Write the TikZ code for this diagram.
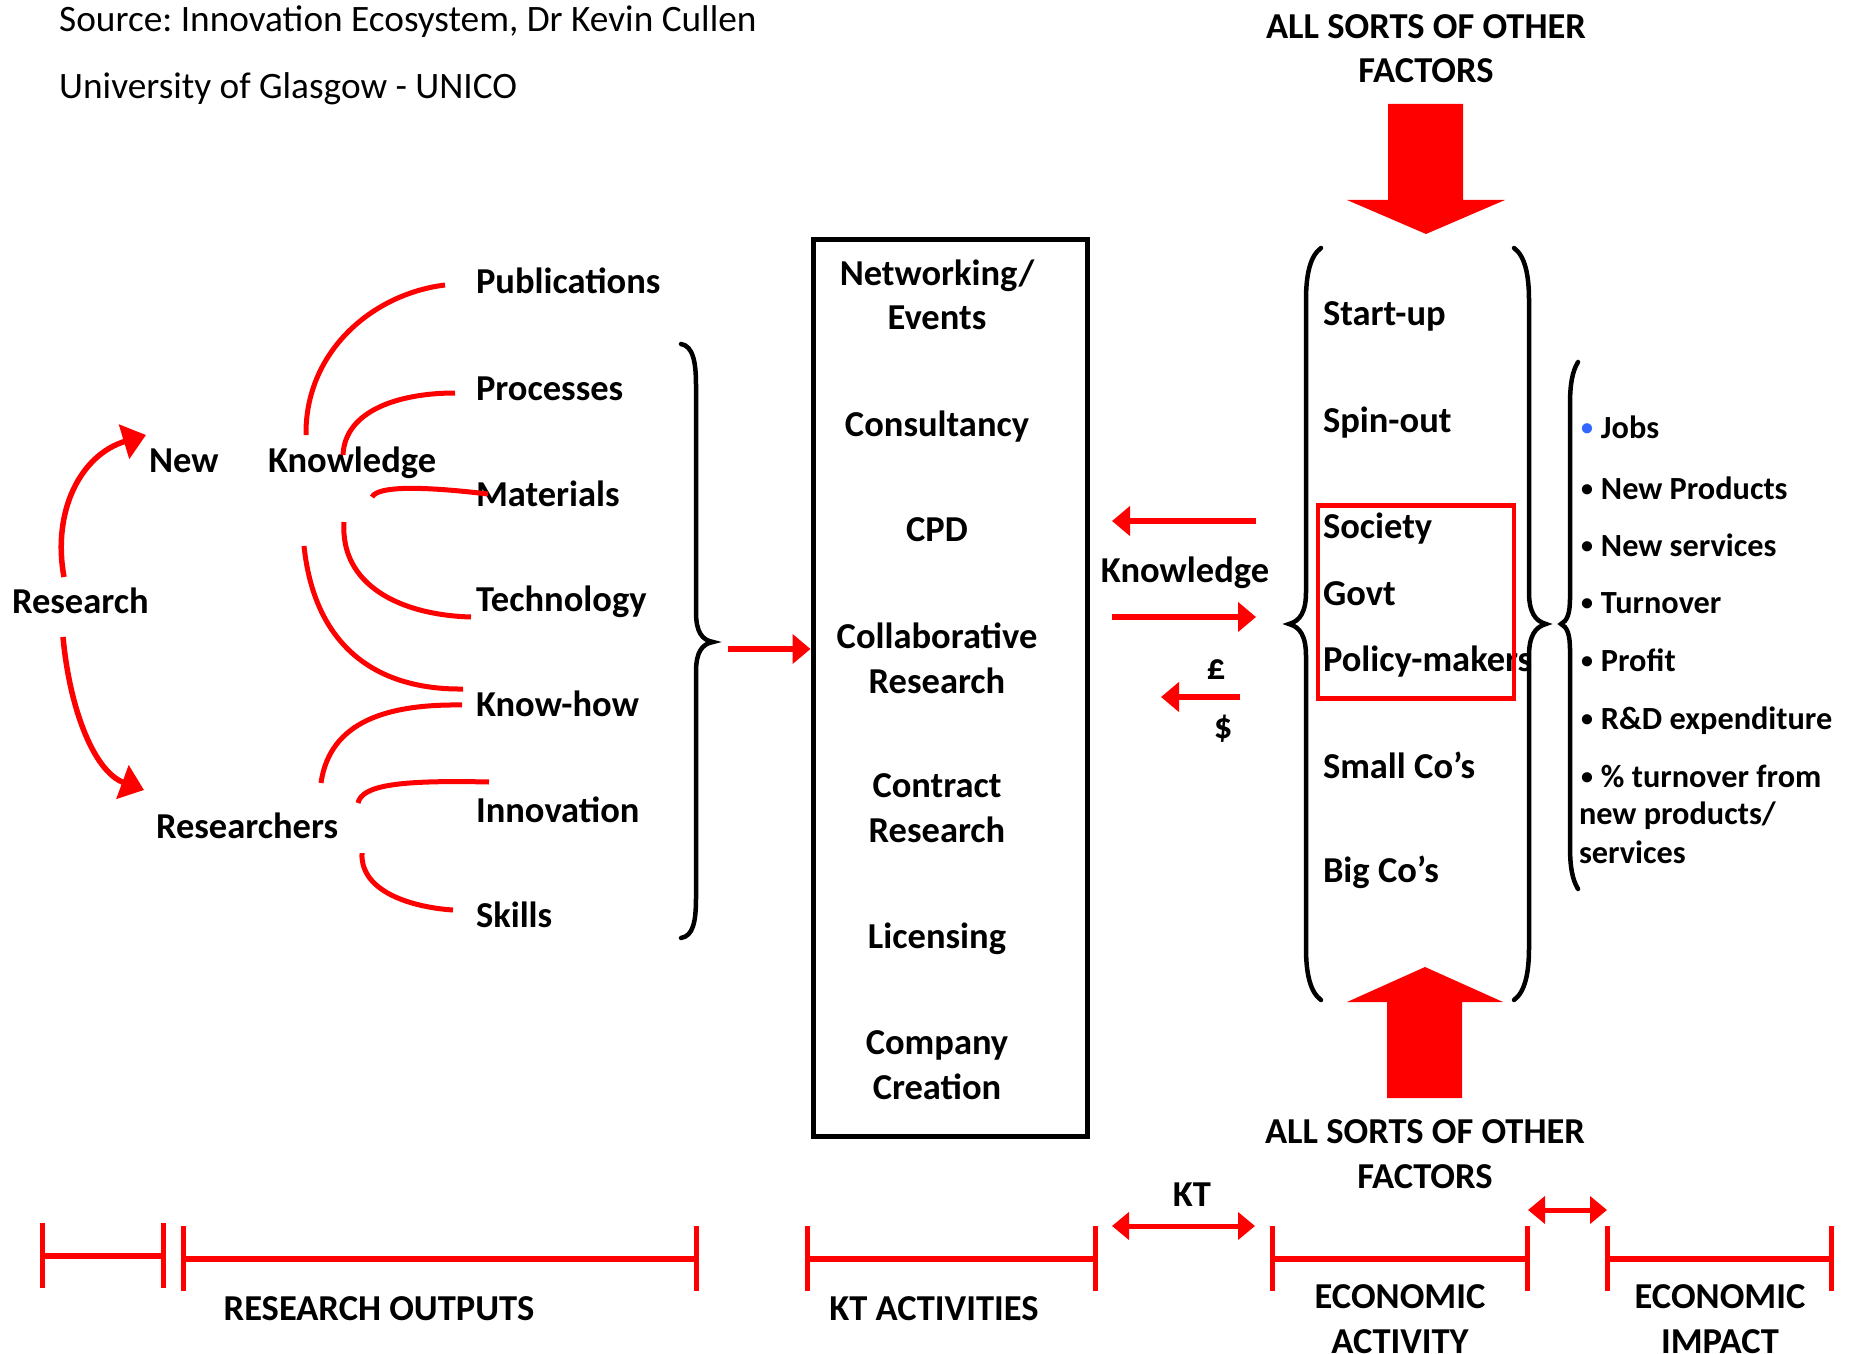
\documentclass[tikz,border=0pt]{standalone}
\usepackage{fontspec}
\setmainfont{Carlito}
\usetikzlibrary{arrows.meta}
\definecolor{bulblue}{RGB}{51,102,255}
\newcommand{\bul}[1][black]{\raisebox{2.5bp}{\fontsize{24bp}{24bp}\selectfont\color{#1}•}}
\begin{document}
\frenchspacing
\begin{tikzpicture}[x=1bp,y=-1bp,
  lbl/.style={font=\bfseries\fontsize{36.5bp}{44.5bp}\selectfont, inner sep=0pt, outer sep=0pt},
  bl/.style={font=\bfseries\fontsize{32.3bp}{38bp}\selectfont, inner sep=0pt, outer sep=0pt, anchor=base west},
  src/.style={font=\fontsize{37.3bp}{44.5bp}\selectfont, inner sep=0pt, anchor=base west},
  curve/.style={draw=red, line width=5bp},
  brc/.style={draw=black, line width=4.5bp, line cap=round},
  redarrow/.style={draw=red, line width=5.5bp, -{Triangle[length=18bp,width=29bp]}},
  bigtip/.style={draw=red, line width=5.5bp, -{Triangle[length=23bp,width=35bp]}},
  dblarrow/.style={draw=red, line width=5bp, {Triangle[length=17bp,width=27bp]}-{Triangle[length=17bp,width=27bp]}},
  tick/.style={draw=red, line width=5bp},
  bar/.style={draw=red, line width=6bp},
  blockarrow/.style={fill=red, draw=none}
]
\useasboundingbox (0,0) rectangle (1856,1354);
\fill[white] (0,0) rectangle (1856,1354);

% ---- source text
\node[src] (src1) at (59,32) {Source: Innovation Ecosystem, Dr Kevin Cullen};
\node[src] (src2) at (59,99) {University of Glasgow - UNICO};

% ---- left part
\node[lbl, anchor=base west] (research) at (12,613) {Research};
\node[lbl, anchor=base west] (new) at (149,472) {New};
\node[lbl, anchor=base west] (knowledge) at (268,472) {Knowledge};
\node[lbl, anchor=base west] (researchers) at (156,838) {Researchers};

\node[lbl, anchor=base west] (pub) at (476,294) {Publications};
\node[lbl, anchor=base west] (proc) at (476,400) {Processes};
\node[lbl, anchor=base west] (mat) at (476,506) {Materials};
\node[lbl, anchor=base west] (tech) at (476,611) {Technology};
\node[lbl, anchor=base west] (khow) at (476,716) {Know-how};
\node[lbl, anchor=base west] (innov) at (476,822) {Innovation};
\node[lbl, anchor=base west] (skills) at (476,927) {Skills};

% research arrows
\coordinate (ru0) at (64,577);
\coordinate (ru1) at (146,435);
\coordinate (rd0) at (63,637);
\coordinate (rd1) at (144,790);
\draw[bigtip] (ru0) .. controls (52,512) and (80,455) .. (ru1);
\draw[bigtip] (rd0) .. controls (70,712) and (95,772) .. (rd1);

% knowledge / researchers curves
\coordinate (c1a) at (306,435);  \coordinate (c1b) at (445,285);
\coordinate (c2a) at (343,455);  \coordinate (c2b) at (455,393);
\coordinate (c3a) at (372,497);  \coordinate (c3b) at (488,494);
\coordinate (c4a) at (344,522);  \coordinate (c4b) at (471,617);
\coordinate (c5a) at (304,546);  \coordinate (c5b) at (463,689);
\coordinate (c6a) at (321,783);  \coordinate (c6b) at (462,705);
\coordinate (c7a) at (358,803);  \coordinate (c7b) at (489,782);
\coordinate (c8a) at (362,853);  \coordinate (c8b) at (453,910);
\draw[curve] (c1a) .. controls (305,352) and (372,294) .. (c1b);
\draw[curve] (c2a) .. controls (345,410) and (400,393) .. (c2b);
\draw[curve] (c3a) .. controls (378,486) and (420,486) .. (c3b);
\draw[curve] (c4a) .. controls (340,585) and (400,615) .. (c4b);
\draw[curve] (c5a) .. controls (315,650) and (380,690) .. (c5b);
\draw[curve] (c6a) .. controls (330,720) and (390,704) .. (c6b);
\draw[curve] (c7a) .. controls (362,785) and (400,780) .. (c7b);
\draw[curve] (c8a) .. controls (360,895) and (420,908) .. (c8b);

% left brace
\draw[brc] (681,344) .. controls (693,346) and (696,362) .. (696,385) -- (696,612)
  .. controls (696,632) and (702,640) .. (713,642)
  .. controls (702,644) and (696,652) .. (696,672) -- (696,898)
  .. controls (696,922) and (693,936) .. (681,938);
\coordinate (bracetip) at (728,649);

% ---- KT activities box
\node[draw, line width=5bp, minimum width=274bp, minimum height=896bp, inner sep=0pt] (ktbox) at (950,688) {};
\node[lbl, align=center, anchor=base] (net) at (937,330) {Networking/\\Events};
\node[lbl, anchor=base] (cons) at (937,436) {Consultancy};
\node[lbl, anchor=base] (cpd) at (937,541) {CPD};
\node[lbl, align=center, anchor=base] (collab) at (937,693) {Collaborative\\Research};
\node[lbl, align=center, anchor=base] (contract) at (937,842) {Contract\\Research};
\node[lbl, anchor=base] (lic) at (937,948) {Licensing};
\node[lbl, align=center, anchor=base] (company) at (937,1099) {Company\\Creation};

\draw[redarrow] (bracetip) -- (ktbox.west |- bracetip);

% ---- knowledge / money arrows
\node[lbl, anchor=base] (kn2) at (1185,582) {Knowledge};
\node[lbl, anchor=base] (pound) at (1216,679) {£};
\node[lbl, anchor=base] (dollar) at (1223,738) {\$};
\coordinate (ka0) at (1256,521); \coordinate (ka1) at (1112,521);
\coordinate (kb0) at (1112,617); \coordinate (kb1) at (1256,617);
\coordinate (ma0) at (1240,697); \coordinate (ma1) at (1161,697);
\draw[redarrow] (ka0) -- (ka1);
\draw[redarrow] (kb0) -- (kb1);
\draw[redarrow] (ma0) -- (ma1);

% ---- economic activity braces
\draw[brc] (1321,248) .. controls (1310,256) and (1306,275) .. (1306,300) -- (1306,592)
  .. controls (1306,612) and (1300,621) .. (1289,624)
  .. controls (1300,627) and (1306,636) .. (1306,656) -- (1306,948)
  .. controls (1306,973) and (1310,992) .. (1321,1000);
\draw[brc] (1514,248) .. controls (1525,256) and (1529,275) .. (1529,300) -- (1529,592)
  .. controls (1529,612) and (1535,621) .. (1546,624)
  .. controls (1535,627) and (1529,636) .. (1529,656) -- (1529,948)
  .. controls (1529,973) and (1525,992) .. (1514,1000);

\node[lbl, anchor=base west] (startup) at (1323,326) {Start-up};
\node[lbl, anchor=base west] (spinout) at (1323,432) {Spin-out};
\node[lbl, anchor=base west] (society) at (1323,538) {Society};
\node[lbl, anchor=base west] (govt) at (1323,605) {Govt};
\node[lbl, anchor=base west] (policy) at (1323,671) {Policy-makers};
\node[lbl, anchor=base west] (smallco) at (1323,778) {Small Co’s};
\node[lbl, anchor=base west] (bigco) at (1323,882) {Big Co’s};
\node[draw=red, line width=4.5bp, inner sep=0pt, minimum width=196bp, minimum height=193bp] (redbox) at (1416,602) {};

% small brace
\draw[brc] (1578,362) .. controls (1572,372) and (1570,385) .. (1570,405) -- (1570,598)
  .. controls (1570,614) and (1567,621) .. (1561,624)
  .. controls (1567,627) and (1570,634) .. (1570,650) -- (1570,846)
  .. controls (1570,866) and (1572,879) .. (1578,889);

\node[bl] (jobs) at (1581,438) {\bul[bulblue]\hspace{8bp}Jobs};
\node[bl] (newprod) at (1581,499) {\bul\hspace{8bp}New Products};
\node[bl] (newserv) at (1581,556) {\bul\hspace{8bp}New services};
\node[bl] (turnover) at (1581,613) {\bul\hspace{8bp}Turnover};
\node[bl] (profit) at (1581,671) {\bul\hspace{8bp}Profit};
\node[bl] (rd) at (1581,729) {\bul\hspace{8bp}R\&D expenditure};
\node[bl] (pct) at (1581,787) {\bul\hspace{8bp}\% turnover from};
\node[bl] (pct2) at (1579,824) {new products/};
\node[bl] (pct3) at (1579,863) {services};

% ---- block arrows and factor labels
\node[lbl, align=center, anchor=base] (topf) at (1426,83) {ALL SORTS OF OTHER\\FACTORS};
\fill[blockarrow] (1388,104) -- (1463,104) -- (1463,200) -- (1505,200) -- (1426,234)
  -- (1347,200) -- (1388,200) -- cycle;
\fill[blockarrow] (1425,967) -- (1503,1002) -- (1462,1002) -- (1462,1098) -- (1387,1098)
  -- (1387,1002) -- (1347,1002) -- cycle;
\node[lbl, align=center, anchor=base] (botf) at (1425,1188) {ALL SORTS OF OTHER\\FACTORS};

% ---- timeline
\coordinate (t1a) at (42,1256);  \coordinate (t1b) at (163,1256);
\coordinate (t2a) at (183,1259); \coordinate (t2b) at (696,1259);
\coordinate (t3a) at (807,1259); \coordinate (t3b) at (1095,1259);
\coordinate (t4a) at (1272,1259); \coordinate (t4b) at (1527,1259);
\coordinate (t5a) at (1607,1259); \coordinate (t5b) at (1831,1259);
\foreach \a/\b in {t1a/t1b,t2a/t2b,t3a/t3b,t4a/t4b,t5a/t5b}{
  \draw[bar] (\a) -- (\b);
  \draw[tick] ([yshift=33bp]\a) -- ([yshift=-32bp]\a);
  \draw[tick] ([yshift=33bp]\b) -- ([yshift=-32bp]\b);
}
\coordinate (kt0) at (1112,1226); \coordinate (kt1) at (1255,1226);
\coordinate (ei0) at (1528,1210); \coordinate (ei1) at (1607,1210);
\draw[dblarrow] (kt0) -- (kt1);
\draw[dblarrow] (ei0) -- (ei1);
\node[lbl, anchor=base] (ktlbl) at (1192,1206) {KT};

\node[lbl, anchor=base] (rolbl) at (379,1320) {RESEARCH OUTPUTS};
\node[lbl, anchor=base] (ktalbl) at (934,1320) {KT ACTIVITIES};
\node[lbl, align=center, anchor=base] (ealbl) at (1400,1353) {ECONOMIC\\ACTIVITY};
\node[lbl, align=center, anchor=base] (eilbl) at (1720,1353) {ECONOMIC\\IMPACT};
\end{tikzpicture}
\end{document}
